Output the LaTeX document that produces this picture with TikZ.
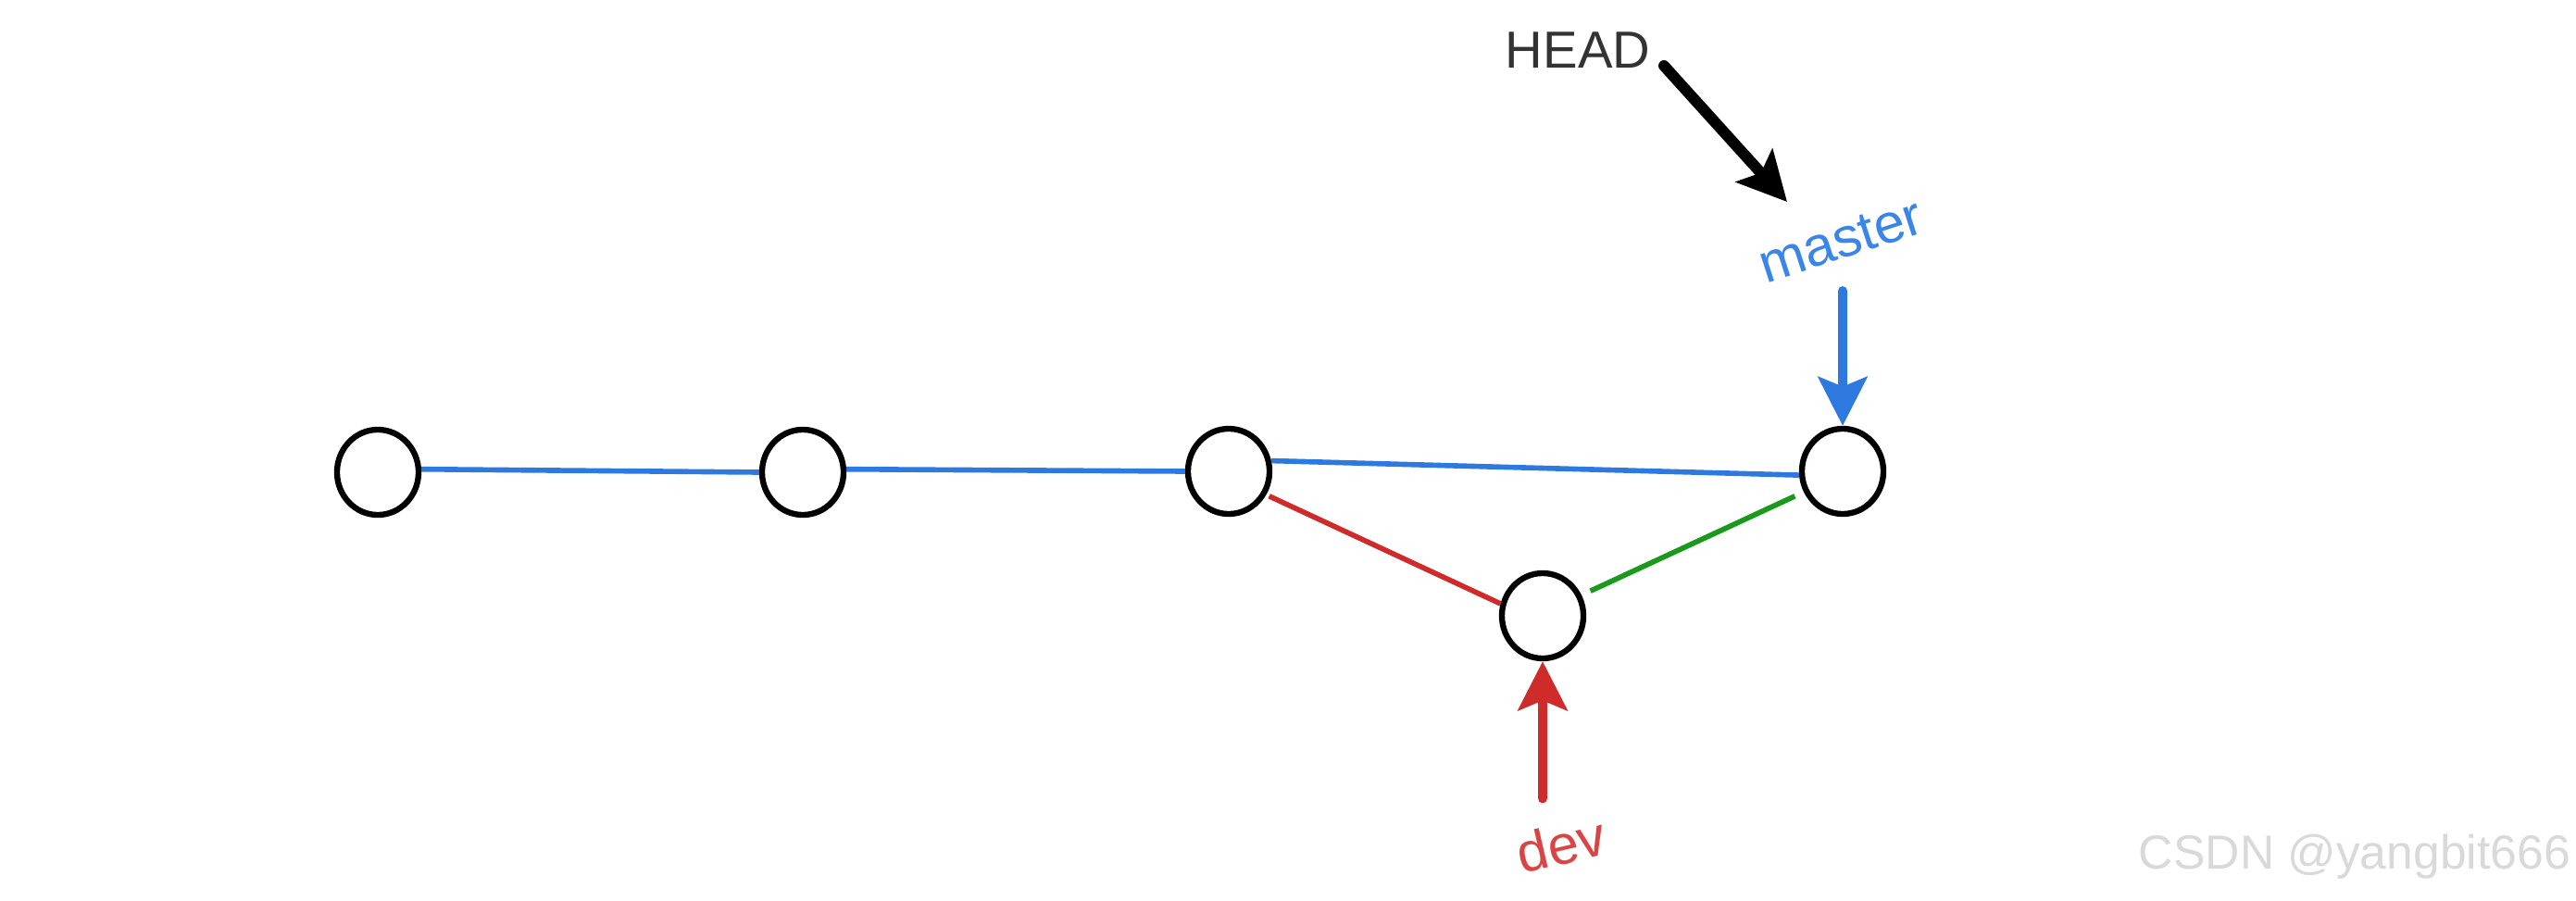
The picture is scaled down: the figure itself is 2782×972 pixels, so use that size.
\documentclass[tikz,border=0pt]{standalone}
\usepackage{fontspec}
\setmainfont{Liberation Sans}
\usetikzlibrary{arrows.meta,shapes.geometric}
\definecolor{gitblue}{HTML}{2E79E0}
\definecolor{gitred}{HTML}{CF2B2B}
\definecolor{gitgreen}{HTML}{1A9A1A}
\definecolor{mastertxt}{HTML}{3A86E8}
\definecolor{devtxt}{HTML}{D94545}
\definecolor{wmark}{HTML}{D9D9D9}

\begin{document}
\begin{tikzpicture}[>=Latex,x=0.01cm,y=0.01cm,
    commit/.style={ellipse,draw,line width=1.8pt,minimum width=0.88cm,minimum height=0.92cm,inner sep=0pt},
    branch/.style={line width=1.6pt},
    ptr/.style={line cap=round},
    tip/.style={-{Stealth[length=15pt,width=15pt,inset=3pt]}}]
  \useasboundingbox (0,0) rectangle (2782,972);
  % コミット
  \node[commit] (c1) at (408,462) {};
  \node[commit] (c2) at (867,462) {};
  \node[commit] (c3) at (1327,463) {};
  \node[commit] (c4) at (1990,463) {};
  \node[commit] (c5) at (1666,307) {};
  % 枝
  \draw[branch,gitblue] (c1.4) -- (c2.180);
  \draw[branch,gitblue] (c2.4) -- (c3.180);
  \draw[branch,gitblue] (c3.14) -- (c4.185);
  \draw[branch,gitred,shorten <=1pt] (c3.-32) -- (c5.164);
  \draw[branch,gitgreen,shorten <=3pt,shorten >=3pt] (c5.28) -- (c4.208);
  % ラベル
  \node[text=black!80,font=\fontsize{16}{19}\selectfont] (head) at (1704,918) {HEAD};
  \node[text=mastertxt,rotate=18,font=\fontsize{17}{20}\selectfont] (master) at (1988,712) {master};
  \node[text=devtxt,rotate=13,font=\fontsize{17}{20}\selectfont] (dev) at (1686,60) {dev};
  % ポインタ
  \coordinate (hs) at (1797,901);
  \coordinate (ht) at (1930,754);
  \coordinate (ms) at (1990,658);
  \coordinate (ds) at (1666,110);
  \draw[ptr,tip,line width=3.4pt] (hs) -- (ht);
  \draw[ptr,tip,gitblue,line width=2.8pt] (ms) -- (c4.north);
  \draw[ptr,tip,gitred,line width=3.1pt] (ds) -- (c5.south);
  % 透かし
  \node[text=wmark,font=\fontsize{14.7}{17}\selectfont] (wm) at (2543,47) {CSDN @yangbit666};
\end{tikzpicture}
\end{document}
